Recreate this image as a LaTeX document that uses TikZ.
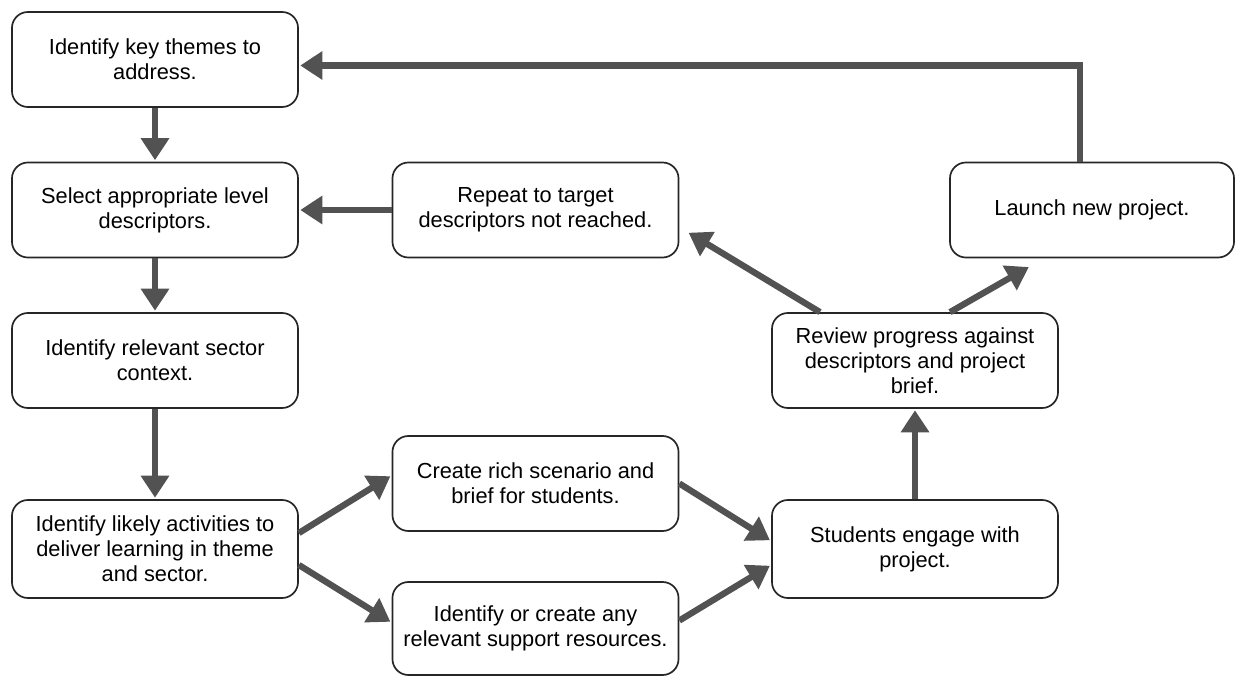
\documentclass[tikz,border=0pt]{standalone}
\usepackage{fontspec}
\setmainfont{Liberation Sans}
\usetikzlibrary{arrows.meta}
\begin{document}
\begin{tikzpicture}[x=.025cm,y=-.025cm,
		stepbox/.style={draw=black!85,line width=1.2pt,rounded corners=.4cm,minimum width=7.15cm,minimum height=2.375cm,align=center,inner sep=0pt,font=\fontsize{15.5}{17.8}\selectfont},
		link/.style={draw=black!68,line width=4.5pt,shorten >=1pt,-{Triangle[length=.55cm,width=.68cm]}}]
	\useasboundingbox (0,0) rectangle (1236,676);
	
	\node[stepbox] (themes) at (155,59.5) {Identify key themes to\\address.};
	\node[stepbox] (level) at (155,210) {Select appropriate level\\descriptors.};
	\node[stepbox] (sector) at (155,360.5) {Identify relevant sector\\context.};
	\node[stepbox,minimum height=2.45cm] (activ) at (155,549) {Identify likely activities to\\deliver learning in theme\\and sector.};
	\node[stepbox] (scen) at (535.5,483.5) {Create rich scenario and\\brief for students.};
	\node[stepbox,minimum height=2.325cm] (res) at (535.5,628.5) {Identify or create any\\relevant support resources.};
	\node[stepbox,minimum height=2.45cm] (engage) at (915,549) {Students engage with\\project.};
	\node[stepbox] (review) at (915,360.5) {Review progress against\\descriptors and project\\brief.};
	\node[stepbox] (redo) at (535.5,210) {Repeat to target\\descriptors not reached.};
	\node[stepbox,minimum width=7.1cm] (launch) at (1092,210) {Launch new project.};
	
	\draw[link] (themes) -- (level);
	\draw[link] (level) -- (sector);
	\draw[link] (sector) -- (activ);
	\draw[link] ([yshift=.4cm]activ.east) -- ([yshift=.2cm]scen.west);
	\draw[link] ([yshift=-.4cm]activ.east) -- ([yshift=.15cm]res.west);
	\draw[link] (scen.east) -- ([yshift=.2cm]engage.west);
	\draw[link] ([yshift=.2cm]res.east) -- ([yshift=-.4cm]engage.west);
	\draw[link] (engage) -- (review);
	\draw[link] ([xshift=-2.375cm]review.north) -- ([xshift=.2cm,yshift=-.55cm]redo.east);
	\draw[link] ([xshift=.875cm]review.north) -- ([xshift=-1.55cm,yshift=-.2cm]launch.south);
	\draw[link] (redo) -- (level);
	\draw[link] ([xshift=-.3cm]launch.north) |- ([yshift=-.15cm]themes.east);
\end{tikzpicture}
\end{document}
